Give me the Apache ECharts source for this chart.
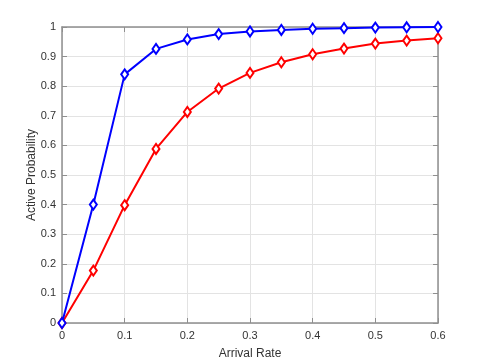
<!DOCTYPE html>
<html lang="en">
<head>
    <meta charset="UTF-8">
    <title>Active Probability</title>
    <style>
        body{ margin: 0; }
        #main{
            width: 485px;
            height: 363px;
        }
    </style>
</head>
<body>
<div id="main"></div>
<script src="https://cdn.jsdelivr.net/npm/echarts@6/dist/echarts.min.js"></script>
<script>
    const myChart = echarts.init(document.getElementById('main'));

    /*数据*/
    const arrivalRate = [0, 0.05, 0.1, 0.15, 0.2, 0.25, 0.3, 0.35, 0.4, 0.45, 0.5, 0.55, 0.6];
    const blueProb = [0, 0.40, 0.84, 0.926, 0.958, 0.976, 0.985, 0.990, 0.994, 0.996, 0.998, 0.999, 1.0];
    const redProb = [0, 0.177, 0.398, 0.588, 0.713, 0.792, 0.845, 0.881, 0.908, 0.927, 0.944, 0.954, 0.962];

    const txt = '#333333';
    const font = 'Liberation Sans';
    const axisColor = '#8f8f8f';

    function pairs(ys){
        return arrivalRate.map((x, i) => [x, ys[i]]);
    }

    // 坐标轴，每次新建对象
    function makeAxis(pos, max, interval, main){
        return {
            type: 'value',
            position: pos,
            min: 0, max: max, interval: interval,
            axisLine: {show: true, onZero: false, lineStyle: {color: axisColor, width: 1.5}},
            axisTick: {show: true, inside: true, length: 5, lineStyle: {color: axisColor, width: 1}},
            splitLine: {show: main, lineStyle: {color: '#e3e3e3', width: 1}},
            axisLabel: {show: main, color: txt, fontFamily: font, fontSize: 11, margin: pos === 'bottom' ? 7 : 6}
        };
    }

    const xMain = makeAxis('bottom', 0.6, 0.1, true);
    xMain.name = 'Arrival Rate';
    xMain.nameLocation = 'middle';
    xMain.nameGap = 25;
    xMain.nameMoveOverlap = false;
    xMain.nameTextStyle = {color: txt, fontFamily: font, fontSize: 12};

    const yMain = makeAxis('left', 1, 0.1, true);
    yMain.name = 'Active Probability';
    yMain.nameLocation = 'middle';
    yMain.nameGap = 24;
    yMain.nameMoveOverlap = false;
    yMain.nameTextStyle = {color: txt, fontFamily: font, fontSize: 12};

    const option = {
        animation: false,
        grid: {left: 62, right: 47, top: 27, bottom: 40, outerBoundsMode: 'none'},
        xAxis: [xMain, makeAxis('top', 0.6, 0.1, false)],
        yAxis: [yMain, makeAxis('right', 1, 0.1, false)],
        series: [
            {
                type: 'line',
                data: pairs(blueProb),
                symbol: 'emptyDiamond',
                symbolSize: [7, 10],
                lineStyle: {color: '#0000ff', width: 2},
                itemStyle: {color: '#0000ff', borderWidth: 1.5},
                z: 3
            },
            {
                type: 'line',
                data: pairs(redProb),
                symbol: 'emptyDiamond',
                symbolSize: [7, 10],
                lineStyle: {color: '#ff0000', width: 2},
                itemStyle: {color: '#ff0000', borderWidth: 1.5},
                z: 2
            }
        ]
    };

    myChart.setOption(option);
</script>
</body>
</html>
